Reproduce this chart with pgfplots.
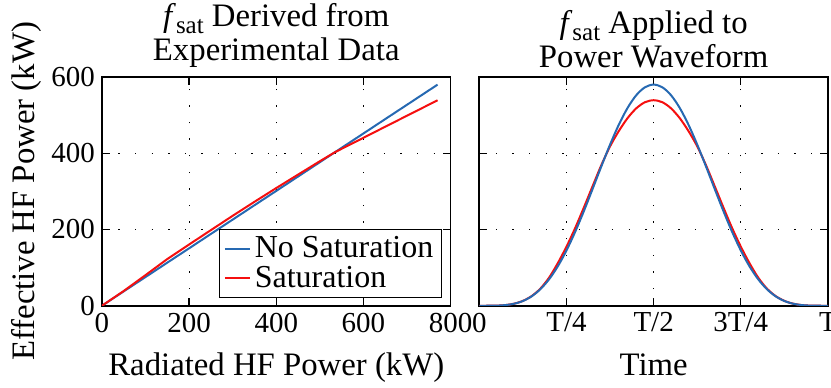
\documentclass[border=0pt]{standalone}
\usepackage{fontspec}
\setmainfont{Liberation Serif}
\usepackage{pgfplots}
\usepackage{pgfplotstable}
\pgfplotsset{compat=1.18}
\definecolor{cblue}{RGB}{38,105,178}
\definecolor{cred}{RGB}{245,15,15}
\newcommand{\fsat}{\textit{f}\raisebox{-0.45ex}{\fontsize{12.5}{12.5}\selectfont sat}}

\pgfplotstableread{
x blue red
0 0 0
50 37.7 38.7
100 75.3 80.3
150 113.0 122.5
200 150.6 160.6
250 188.3 198.3
300 225.9 235.9
350 263.6 272.6
400 301.2 308.7
450 338.9 343.9
500 376.5 379.0
535 402.9 402.9
600 451.8 440.5
650 489.5 469.5
700 527.1 498.4
770 579.8 538.8
}\satdata

\pgfplotstableread{
t blue red
0 0 0
0.025 0.02 0.02
0.05 0.35 0.35
0.075 1.72 1.73
0.1 5.29 5.43
0.125 12.44 12.77
0.15 24.64 25.29
0.175 43.23 44.82
0.2 69.23 73.58
0.225 103.18 111.51
0.25 145.0 154.93
0.275 193.92 203.92
0.3 248.46 257.86
0.325 306.55 313.70
0.35 365.55 368.79
0.375 422.56 418.04
0.4 474.52 458.0
0.425 518.50 491.8
0.45 551.96 517.6
0.475 572.88 533.7
0.5 580.0 539.0
0.525 572.88 533.7
0.55 551.96 517.6
0.575 518.50 491.8
0.6 474.52 458.0
0.625 422.56 418.04
0.65 365.55 368.79
0.675 306.55 313.70
0.7 248.46 257.86
0.725 193.92 203.92
0.75 145.0 154.93
0.775 103.18 111.51
0.8 69.23 73.58
0.825 43.23 44.82
0.85 24.64 25.29
0.875 12.44 12.77
0.9 5.29 5.43
0.925 1.72 1.73
0.95 0.35 0.35
0.975 0.02 0.02
1 0 0
}\wavedata

\begin{document}
\begin{tikzpicture}
\pgfplotsset{
  every axis/.append style={
    scale only axis, width=174.5pt, height=114.5pt,
    ymin=0, ymax=600, ytick={0,200,400,600},
    tick align=inside,
    grid=major,
    major grid style={black, dash pattern=on 0.7pt off 7.6pt},
    tick style={black, line width=0.6pt},
    major tick length=4pt,
    axis line style={black, line width=0.8pt},
    tick label style={font=\fontsize{14.5}{14.5}\selectfont},
    title style={font=\fontsize{16.4}{17}\selectfont, align=center, yshift=-5pt},
    /pgf/number format/assume math mode=true,
    every axis x label/.style={at={(axis description cs:0.5,-0.3057)}, anchor=base,
      font=\fontsize{16.4}{16.4}\selectfont},
    every axis y label/.style={at={(axis description cs:-0.192,0.5)}, rotate=90, anchor=base,
      font=\fontsize{16.4}{16.4}\selectfont},
  }
}
\begin{axis}[
  xmin=0, xmax=800, xtick={0,200,400,600,800},
  xticklabels={0,200,400,600,{800\hspace{9pt}}},
  xlabel={Radiated HF Power (kW)},
  ylabel={Effective HF Power (kW)},
  title={\fsat{} Derived from\\Experimental Data},
  legend style={at={(rel axis cs:0.975,0.035)}, anchor=south east,
    draw=black, line width=0.6pt, font=\fontsize{16}{16}\selectfont,
    inner xsep=2pt, inner ysep=1.5pt, row sep=-1.5pt},
  legend cell align=left,
  legend image code/.code={\draw[line width=1pt] (0pt,0pt) -- (12.5pt,0pt);},
]
\addplot[cblue, line width=1pt] table[x=x, y=blue] {\satdata};
\addlegendentry{No Saturation}
\addplot[cred, line width=1pt] table[x=x, y=red] {\satdata};
\addlegendentry{Saturation}
\end{axis}
\begin{axis}[
  at={(188.85pt,0pt)},
  xmin=0, xmax=1, xtick={0,0.25,0.5,0.75,1},
  xticklabels={0,T/4,T/2,3T/4,T},
  yticklabels={},
  xlabel={Time},
  title={\fsat{} Applied to\\Power Waveform},
]
\addplot[cred, line width=1pt, smooth] table[x=t, y=red] {\wavedata};
\addplot[cblue, line width=1pt, smooth] table[x=t, y=blue] {\wavedata};
\end{axis}
\pgfresetboundingbox
\path (-51pt,-41pt) rectangle (364.85pt,153pt);
\end{tikzpicture}
\end{document}
